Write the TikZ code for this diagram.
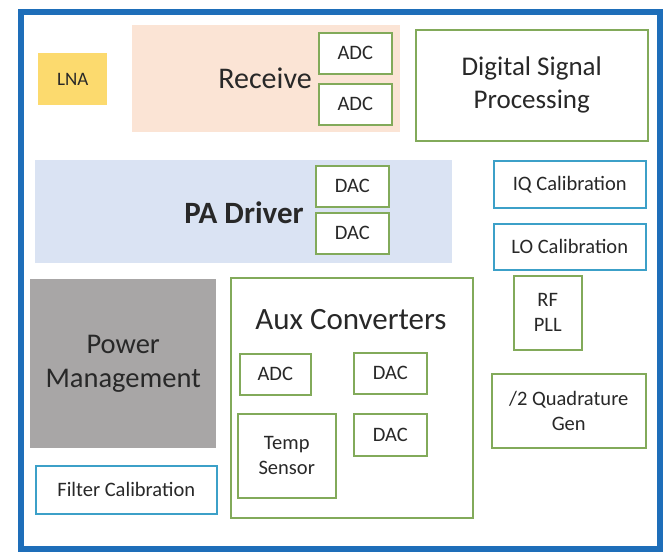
\documentclass[tikz,border=0pt]{standalone}
\usepackage{fontspec}
\setmainfont{Carlito}
\definecolor{chipblue}{RGB}{30,110,185}
\definecolor{boxgreen}{RGB}{130,170,90}
\definecolor{calcyan}{RGB}{60,160,200}
\definecolor{lnayellow}{RGB}{252,218,110}
\definecolor{rxpeach}{RGB}{251,228,213}
\definecolor{pablue}{RGB}{218,227,243}
\definecolor{pmgrey}{RGB}{168,166,166}
\definecolor{txt}{RGB}{40,40,40}

\tikzset{
  block/.style={anchor=north west, inner sep=0pt, align=center, text=txt},
  greenbox/.style={block, draw=boxgreen, line width=1.5pt, fill=white, font=\fontsize{20.5}{25}\selectfont},
  calbox/.style={block, draw=calcyan, line width=1.5pt, fill=white, font=\fontsize{20.5}{25}\selectfont},
  big/.style={text=txt, align=center, font=\fontsize{27}{33}\selectfont}
}

\begin{document}
\begin{tikzpicture}[x=1pt, y=-1pt]

\useasboundingbox (0,0) rectangle (670,552);
\fill[white] (0,0) rectangle (670,552);
\draw[line width=6pt, draw=chipblue] (21,12) rectangle (660,549);

% receive path
\node[block, fill=lnayellow, minimum width=69, minimum height=52,
      font=\fontsize{19}{22}\selectfont] (lna) at (38,53) {LNA};
\node[block, fill=rxpeach, minimum width=268, minimum height=107] (rx) at (132,25) {};
\node[big, font=\fontsize{30}{36}\selectfont] (rxlabel) at (265,78) {Receive};
\foreach \i/\y in {1/32, 2/83}
  \node[greenbox, minimum width=73, minimum height=41] (rxadc\i) at (318,\y) {ADC};

\node[greenbox, big, minimum width=232, minimum height=111] (dsp) at (415,29)
  {Digital Signal\\Processing};

% transmit path
\node[block, fill=pablue, minimum width=417, minimum height=103] (pa) at (35,160) {};
\node[big, font=\fontsize{31}{36}\selectfont\bfseries] (palabel) at (244,213) {PA Driver};
\foreach \i/\y in {1/165, 2/212}
  \node[greenbox, minimum width=73, minimum height=41] (padac\i) at (315,\y) {DAC};

\node[calbox, minimum width=152, minimum height=47] (iqcal) at (493,160) {IQ Calibration};
\node[calbox, minimum width=152, minimum height=46] (local) at (493,223) {LO Calibration};

% power and calibration
\node[block, big, font=\fontsize{28.5}{34}\selectfont, fill=pmgrey,
      minimum width=186, minimum height=169] (pm) at (30,279) {Power\\Management};
\node[calbox, minimum width=181, minimum height=48] (filtcal) at (35,465) {Filter Calibration};

% aux converters
\node[greenbox, minimum width=242, minimum height=240] (aux) at (230,277) {};
\node[big, font=\fontsize{31}{36}\selectfont] (auxlabel) at (351,320) {Aux Converters};
\node[greenbox, minimum width=71, minimum height=41] (auxadc) at (239,353) {ADC};
\node[greenbox, minimum width=98, minimum height=84] (temp) at (237,413) {Temp\\Sensor};
\node[greenbox, minimum width=73, minimum height=41] (auxdac1) at (353,352) {DAC};
\node[greenbox, minimum width=73, minimum height=42] (auxdac2) at (353,413) {DAC};

% clocking
\node[greenbox, minimum width=68, minimum height=74] (pll) at (513,275) {RF\\PLL};
\node[greenbox, minimum width=154, minimum height=74] (quad) at (491,373) {/2 Quadrature\\Gen};

\end{tikzpicture}
\end{document}
